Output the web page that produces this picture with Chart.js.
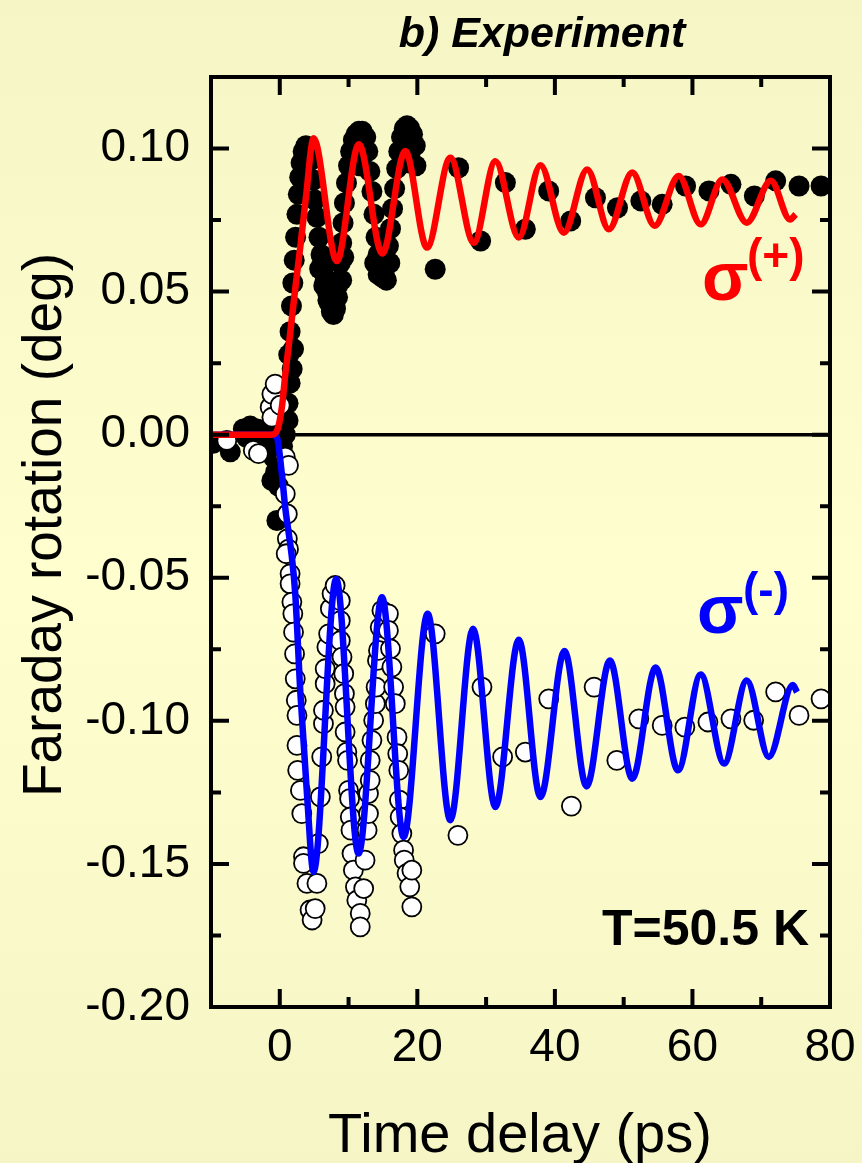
<!DOCTYPE html>
<html>
<head>
<meta charset="utf-8">
<script src="https://cdn.jsdelivr.net/npm/chart.js@4.4.0/dist/chart.umd.min.js"></script>
<style>
  html, body { margin: 0; padding: 0; background: #FBFBCB; }
  #wrap { width: 862px; height: 1163px; }
</style>
</head>
<body>
<div id="wrap"><canvas id="faraday-chart" width="862" height="1163"></canvas></div>
<script>
// measured points, [time delay (ps), Faraday rotation (deg)]
const filledPoints = [
  [-9.7,-0.003],[-7.2,-0.006],[-5.3,0.002],[-4.8,-0.001],[-4.3,0.003],[-3.8,0.0],[-3.3,0.002],[-2.9,-0.002],
  [-2.5,0.001],[-2.1,-0.001],[-1.8,0.002],[-1.5,-0.003],[-1.15,-0.016],[-0.9,-0.008],[-0.6,-0.013],[-0.42,-0.030],
  [-0.2,-0.018],[0.1,-0.009],[0.4,-0.004],[0.8,0.0],[1.2,0.005],[1.2,0.011],[1.5,0.018],[1.8,0.023],[2.0,0.030],
  [1.3,0.028],[1.5,0.036],[1.7,0.045],[1.9,0.053],[2.1,0.061],[2.3,0.069],[2.5,0.077],[2.7,0.084],[2.9,0.090],
  [3.1,0.095],[3.4,0.099],[3.8,0.101],[4.2,0.100],[4.6,0.096],[4.9,0.089],[5.1,0.082],[5.4,0.076],[5.7,0.069],
  [6.0,0.063],[6.3,0.058],[6.6,0.054],[6.9,0.050],[7.2,0.046],[7.5,0.043],[7.8,0.042],[8.1,0.044],[8.4,0.048],
  [8.6,0.054],[8.8,0.060],[9.0,0.067],[9.2,0.074],[9.4,0.081],[9.7,0.088],[10.0,0.094],[10.3,0.099],[10.7,0.103],
  [11.1,0.105],[11.5,0.106],[12.0,0.106],[12.5,0.104],[12.8,0.099],[13.1,0.092],[13.4,0.085],[13.7,0.077],
  [14.0,0.069],[14.3,0.063],[14.6,0.058],[14.9,0.055],[15.2,0.056],[15.5,0.060],[15.8,0.066],[16.1,0.072],
  [16.4,0.079],[16.7,0.086],[17.0,0.093],[17.3,0.099],[17.7,0.104],[18.1,0.107],[18.5,0.108],[18.9,0.107],
  [19.3,0.105],[19.7,0.101],[19.8,0.094],
  [5.8,0.058],[6.2,0.060],[6.4,0.052],[7.0,0.047],[7.8,0.050],[8.4,0.052],[9.0,0.054],[9.3,0.062],
  [13.8,0.060],[14.3,0.056],[14.6,0.062],[15.2,0.065],[15.5,0.054],[16.0,0.060],
  [11.0,0.098],[11.6,0.094],[12.2,0.098],[18.0,0.100],[18.6,0.095],[19.0,0.099],
  [22.6,0.0578],[26.0,0.0933],[29.2,0.0677],[32.8,0.0881],[35.7,0.0718],[39.1,0.0852],[42.3,0.0747],
  [45.9,0.0828],[49.1,0.0793],[52.5,0.0817],[55.6,0.0805],[59.0,0.0869],[62.4,0.0852],[65.6,0.0875],
  [69.0,0.0834],[72.1,0.0887],[75.5,0.0869],[78.7,0.0869]
];

const openPoints = [
  [-7.7,-0.002],[-3.85,-0.0055],[-3.1,-0.0066],[-1.4,0.0096],[-1.15,0.0142],[-0.67,0.0177],[-1.15,0.0061],
  [0.06,0.0103],[0.8,-0.0078],[1.27,-0.0107],[0.8,-0.0207],[1.1,-0.0277],[1.1,-0.0364],[1.27,-0.040],
  [0.93,-0.0416],[1.5,-0.0486],
  [1.5,-0.0521],[1.76,-0.0585],[1.9,-0.0626],[2.0,-0.069],[2.15,-0.0766],[2.25,-0.0853],[2.4,-0.0928],
  [2.5,-0.0981],[2.5,-0.1086],[2.6,-0.1173],[3.0,-0.1243],[3.2,-0.1324],[3.45,-0.1475],[3.45,-0.1498],
  [3.95,-0.1568],[4.4,-0.1661],[4.7,-0.1696],[5.15,-0.1656],[5.4,-0.1568],[5.6,-0.1429],
  [5.9,-0.1266],[6.1,-0.1126],[6.35,-0.101],[6.35,-0.0963],[6.6,-0.087],[6.6,-0.0818],[6.85,-0.0742],
  [7.1,-0.0696],[7.35,-0.0608],[7.6,-0.0556],[8.05,-0.0527],[8.8,-0.058],[8.8,-0.065],[8.8,-0.072],
  [9.05,-0.0777],[9.3,-0.0835],[9.4,-0.0905],[9.5,-0.0952],[9.5,-0.1039],[9.75,-0.1109],[9.85,-0.1138],
  [10.0,-0.1243],[10.15,-0.1272],[10.25,-0.1336],[10.35,-0.1382],[10.5,-0.1464],[10.7,-0.1522],
  [11.0,-0.158],[11.2,-0.1627],[11.7,-0.1673],[11.7,-0.172],[12.2,-0.1586],[12.4,-0.1487],[12.7,-0.1382],
  [12.9,-0.1324],[12.9,-0.1254],[13.15,-0.1208],[13.15,-0.1138],[13.4,-0.1068],[13.65,-0.0998],
  [13.9,-0.094],[14.0,-0.0882],[14.2,-0.0789],[14.35,-0.0754],[14.6,-0.0673],[14.85,-0.0614],
  [15.8,-0.0626],[15.8,-0.0684],[16.1,-0.0748],[16.3,-0.0812],[16.55,-0.0882],[16.8,-0.094],
  [17.05,-0.1057],[17.15,-0.1115],[17.3,-0.1173],[17.4,-0.1277],[17.5,-0.1336],[17.75,-0.1394],
  [18.0,-0.1452],[18.1,-0.1487],[18.5,-0.1533],[18.9,-0.158],[19.2,-0.165],[19.2,-0.1522],
  [22.6,-0.0696],[25.9,-0.140],[29.4,-0.0882],[32.4,-0.1126],[35.7,-0.1109],[39.1,-0.0923],
  [42.4,-0.1298],[45.7,-0.0882],[49.0,-0.1138],[52.2,-0.0993],[55.6,-0.1016],[58.9,-0.1022],
  [62.25,-0.1004],[65.6,-0.0993],[68.9,-0.0998],[72.1,-0.0899],[75.5,-0.0981],[78.7,-0.0923]
];

// fitted curves, read at the turning points
const plusFit = [
  [-10,0],[-1.2,0],[-0.4,0.0014],[0.3,0.0095],[0.8,0.021],[1.3,0.031],[2.2,0.05],[3.0,0.066],[3.9,0.085],
  [4.5,0.099],[4.9,0.1036],[8.3,0.0607],[11.5,0.1015],[14.9,0.0633],[18.25,0.0991],[21.4,0.0654],
  [24.8,0.0968],[28.2,0.0671],[31.35,0.0956],[34.75,0.0689],[37.9,0.0942],[41.3,0.0706],[44.7,0.0927],
  [47.85,0.0718],[51.25,0.0916],[54.5,0.073],[58.0,0.0904],[61.2,0.0735],[64.35,0.0892],[67.9,0.0741],
  [71.4,0.0887],[74.2,0.0752],[75.0,0.077]
];

const minusFit = [
  [-10,0],[-1.2,0],[-0.42,-0.001],[0.3,-0.0137],[0.79,-0.0254],[1.76,-0.0428],[2.25,-0.0556],[3.0,-0.0905],
  [3.95,-0.1254],[4.9,-0.1528],[8.2,-0.0504],[11.45,-0.1464],[14.86,-0.0568],[18.0,-0.1406],[21.5,-0.0626],
  [24.8,-0.1347],[28.1,-0.0678],[31.35,-0.1301],[34.75,-0.0717],[37.9,-0.1266],[41.4,-0.0756],
  [44.6,-0.1229],[48.0,-0.0789],[51.25,-0.1202],[54.65,-0.0814],[57.9,-0.1173],[61.2,-0.0838],
  [64.6,-0.1149],[67.9,-0.0859],[71.1,-0.1126],[74.6,-0.0875],[75.2,-0.090]
];

const xTickValues = [0, 20, 40, 60, 80];
const xMinorValues = [10, 30, 50, 70];
const yTickValues = [-0.2, -0.15, -0.1, -0.05, 0, 0.05, 0.1];
const yMinorValues = [-0.175, -0.125, -0.075, -0.025, 0.025, 0.075, 0.125];

const FONT = '"Liberation Sans", Arial, sans-serif';

function toXY(pairs) {
  return pairs.map(p => ({ x: p[0], y: p[1] }));
}

const decorations = {
  id: 'decorations',
  beforeDraw(chart) {
    const { ctx, width, height } = chart;
    const g = ctx.createLinearGradient(0, 0, 0, height);
    g.addColorStop(0, '#F5F5C5');
    g.addColorStop(0.5, '#FEFECE');
    g.addColorStop(1, '#F5F5C6');
    ctx.save();
    ctx.fillStyle = g;
    ctx.fillRect(0, 0, width, height);
    ctx.restore();
  },
  beforeDatasetsDraw(chart) {
    const { ctx, chartArea: a, scales: { y } } = chart;
    const y0 = y.getPixelForValue(0);
    ctx.save();
    ctx.strokeStyle = '#000';
    ctx.lineWidth = 3.5;
    ctx.beginPath();
    ctx.moveTo(a.left, y0);
    ctx.lineTo(a.right, y0);
    ctx.stroke();
    ctx.restore();
  },
  afterDatasetsDraw(chart) {
    const { ctx, chartArea: a, scales: { x, y } } = chart;
    ctx.save();
    ctx.strokeStyle = '#000';
    ctx.lineWidth = 4;
    ctx.strokeRect(a.left, a.top, a.right - a.left, a.bottom - a.top);
    ctx.beginPath();
    const xt = (v, len) => {
      const px = x.getPixelForValue(v);
      ctx.moveTo(px, a.bottom); ctx.lineTo(px, a.bottom - len);
      ctx.moveTo(px, a.top); ctx.lineTo(px, a.top + len);
    };
    const yt = (v, len) => {
      const py = y.getPixelForValue(v);
      ctx.moveTo(a.left, py); ctx.lineTo(a.left + len, py);
      ctx.moveTo(a.right, py); ctx.lineTo(a.right - len, py);
    };
    xTickValues.forEach(v => xt(v, 18));
    xMinorValues.forEach(v => xt(v, 10));
    yTickValues.forEach(v => yt(v, 18));
    yMinorValues.forEach(v => yt(v, 10));
    ctx.stroke();
    ctx.restore();
  },
  afterDraw(chart) {
    const { ctx } = chart;
    ctx.save();
    ctx.fillStyle = '#000';
    ctx.textBaseline = 'alphabetic';

    ctx.textAlign = 'center';
    ctx.font = 'bold italic 43px ' + FONT;
    ctx.fillText('b) Experiment', 542, 47);

    ctx.font = '56px ' + FONT;
    ctx.fillText('Time delay (ps)', 520, 1152);

    ctx.save();
    ctx.translate(61, 525);
    ctx.rotate(-Math.PI / 2);
    ctx.font = '55px ' + FONT;
    ctx.fillText('Faraday rotation (deg)', 0, 0);
    ctx.restore();

    ctx.textAlign = 'left';
    ctx.font = 'bold 50px ' + FONT;
    ctx.fillText('T=50.5 K', 602, 945);

    ctx.fillStyle = '#FF0000';
    ctx.font = 'bold 68px ' + FONT;
    ctx.fillText('σ', 702, 300);
    ctx.font = 'bold 46px ' + FONT;
    ctx.fillText('(+)', 747, 271);

    ctx.fillStyle = '#0000FF';
    ctx.font = 'bold 68px ' + FONT;
    ctx.fillText('σ', 697, 633);
    ctx.font = 'bold 46px ' + FONT;
    ctx.fillText('(-)', 743, 605);
    ctx.restore();
  }
};

new Chart(document.querySelector('#faraday-chart').getContext('2d'), {
  type: 'scatter',
  data: {
    datasets: [
      {
        label: 'fit σ(+)',
        data: toXY(plusFit),
        showLine: true,
        borderColor: '#FF0000',
        borderWidth: 6.5,
        pointRadius: 0,
        cubicInterpolationMode: 'monotone',
        order: 0
      },
      {
        label: 'fit σ(-)',
        data: toXY(minusFit),
        showLine: true,
        borderColor: '#0000FF',
        borderWidth: 6.5,
        pointRadius: 0,
        cubicInterpolationMode: 'monotone',
        order: 1
      },
      {
        label: 'σ(-)',
        data: toXY(openPoints),
        backgroundColor: '#FFFFFF',
        borderColor: '#000000',
        borderWidth: 1.8,
        pointRadius: 9.5,
        order: 2
      },
      {
        label: 'σ(+)',
        data: toXY(filledPoints),
        backgroundColor: '#000000',
        borderColor: '#000000',
        borderWidth: 0,
        pointRadius: 10.5,
        order: 3
      }
    ]
  },
  options: {
    responsive: false,
    animation: false,
    layout: { padding: { top: 77, right: 32, left: 0, bottom: 0 } },
    plugins: {
      legend: { display: false },
      tooltip: { enabled: false },
      title: { display: false }
    },
    scales: {
      x: {
        type: 'linear',
        min: -10,
        max: 80,
        grid: { display: false, drawTicks: false },
        border: { display: false },
        afterBuildTicks: s => { s.ticks = xTickValues.map(v => ({ value: v })); },
        afterFit: s => { s.height = 156; s.paddingLeft = 0; s.paddingRight = 0; },
        ticks: {
          color: '#000',
          font: { family: FONT, size: 46 },
          padding: 14,
          maxRotation: 0,
          autoSkip: false,
          callback: v => String(v)
        }
      },
      y: {
        type: 'linear',
        min: -0.2,
        max: 0.125,
        grid: { display: false, drawTicks: false },
        border: { display: false },
        afterBuildTicks: s => { s.ticks = yTickValues.map(v => ({ value: v })); },
        afterFit: s => { s.width = 211; s.paddingTop = 0; s.paddingBottom = 0; },
        ticks: {
          color: '#000',
          font: { family: FONT, size: 46 },
          padding: 21,
          autoSkip: false,
          callback: v => Number(v).toFixed(2)
        }
      }
    }
  },
  plugins: [decorations]
});
</script>
</body>
</html>
